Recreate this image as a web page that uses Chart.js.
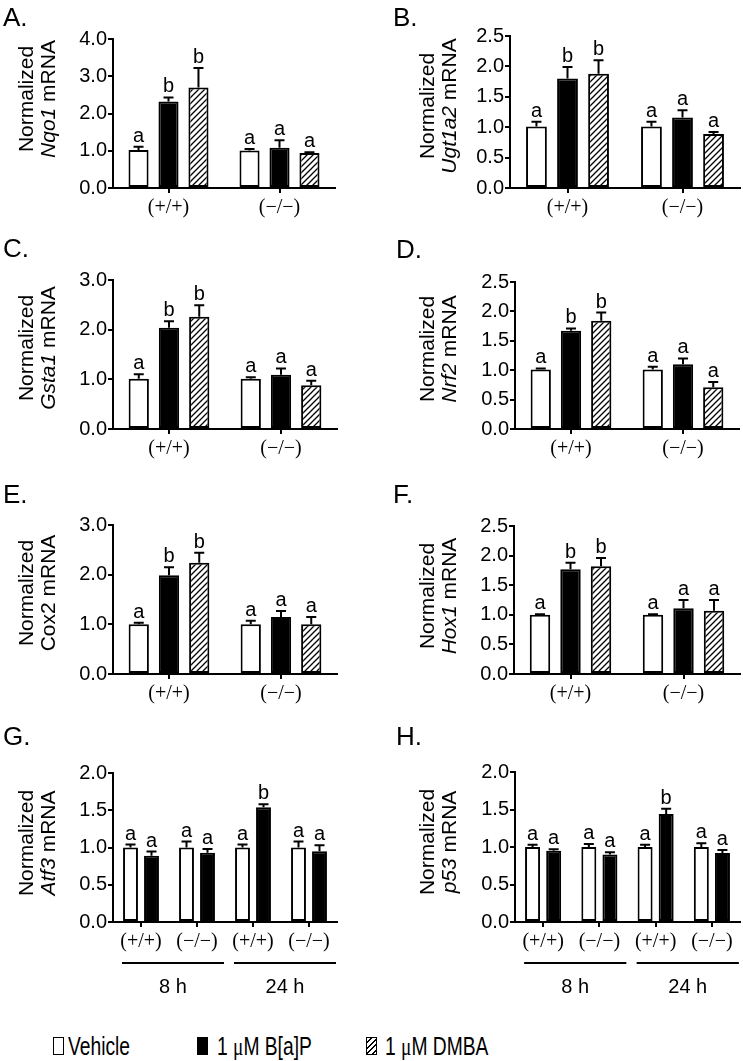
<!DOCTYPE html>
<html>
<head>
<meta charset="utf-8">
<script src="https://cdn.jsdelivr.net/npm/chart.js@4.4.1/dist/chart.umd.min.js"></script>
<style>
  html, body { margin: 0; padding: 0; background: #fff; }
  #fig { position: relative; width: 743px; height: 1061px; overflow: hidden; font-family: 'Liberation Sans', Arial, sans-serif; color: #000; }
  #fig canvas { position: absolute; }
  .tag { position: absolute; font-size: 26px; line-height: 26px; }
  .leg { position: absolute; top: 1034px; font-size: 25px; line-height: 25px; white-space: nowrap; transform: scaleX(0.77); transform-origin: 0 0; }
  .mu { font-family: 'Liberation Serif', serif; }
  .box { position: absolute; top: 1037px; width: 11px; height: 18px; box-sizing: border-box; border: 1.5px solid #000; }
</style>
</head>
<body>
<div id="fig">
  <canvas id="cA" width="372" height="250" style="left:0;top:0"></canvas>
  <canvas id="cB" width="371" height="250" style="left:372px;top:0"></canvas>
  <canvas id="cC" width="372" height="250" style="left:0;top:230px"></canvas>
  <canvas id="cD" width="371" height="250" style="left:372px;top:230px"></canvas>
  <canvas id="cE" width="372" height="250" style="left:0;top:460px"></canvas>
  <canvas id="cF" width="371" height="250" style="left:372px;top:460px"></canvas>
  <canvas id="cG" width="372" height="320" style="left:0;top:690px"></canvas>
  <canvas id="cH" width="371" height="320" style="left:372px;top:690px"></canvas>

  <div class="tag" style="left:3px;top:4px">A.</div>
  <div class="tag" style="left:393px;top:4px">B.</div>
  <div class="tag" style="left:3px;top:235px">C.</div>
  <div class="tag" style="left:396px;top:236px">D.</div>
  <div class="tag" style="left:3px;top:481px">E.</div>
  <div class="tag" style="left:393px;top:481px">F.</div>
  <div class="tag" style="left:3px;top:723px">G.</div>
  <div class="tag" style="left:396px;top:723px">H.</div>

  <div class="box" style="left:53px;background:#fff"></div>
  <div class="leg" style="left:68px">Vehicle</div>
  <div class="box" style="left:197px;background:#000"></div>
  <div class="leg" style="left:217px">1 <span class="mu">μ</span>M B[a]P</div>
  <div class="box" style="left:366px;background:repeating-linear-gradient(135deg,#fff 0 2.6px,#000 2.6px 3.9px)"></div>
  <div class="leg" style="left:385px">1 <span class="mu">μ</span>M DMBA</div>
</div>
<script>
// categorias do eixo x
const genotypes2 = ['(+/+)', '(−/−)'];
const genotypes4 = ['(+/+)', '(−/−)', '(+/+)', '(−/−)'];
const timeLabels = ['8 h', '24 h'];
const treatments = ['Vehicle', '1 μM B[a]P', '1 μM DMBA'];

// A. Nqo1  (linhas: vehicle, B[a]P, DMBA)
const nqo1Mean = [[1.02, 1.01], [2.32, 1.08], [2.70, 0.94]];
const nqo1Sem  = [[0.09, 0.04], [0.11, 0.20], [0.52, 0.02]];
const nqo1Sig  = [['a', 'a'], ['b', 'a'], ['b', 'a']];

// B. Ugt1a2
const ugtMean = [[1.01, 1.01], [1.80, 1.16], [1.88, 0.89]];
const ugtSem  = [[0.08, 0.08], [0.19, 0.12], [0.22, 0.03]];
const ugtSig  = [['a', 'a'], ['b', 'a'], ['b', 'a']];

// C. Gsta1
const gstaMean = [[1.01, 1.01], [2.04, 1.09], [2.26, 0.88]];
const gstaSem  = [[0.09, 0.03], [0.13, 0.13], [0.23, 0.09]];
const gstaSig  = [['a', 'a'], ['b', 'a'], ['b', 'a']];

// D. Nrf2
const nrf2Mean = [[1.01, 1.01], [1.67, 1.10], [1.84, 0.71]];
const nrf2Sem  = [[0.02, 0.05], [0.04, 0.10], [0.14, 0.09]];
const nrf2Sig  = [['a', 'a'], ['b', 'a'], ['b', 'a']];

// E. Cox2
const cox2Mean = [[1.00, 1.00], [1.99, 1.15], [2.24, 1.00]];
const cox2Sem  = [[0.03, 0.07], [0.16, 0.12], [0.20, 0.15]];
const cox2Sig  = [['a', 'a'], ['b', 'a'], ['b', 'a']];

// F. Hox1
const hox1Mean = [[1.00, 1.00], [1.77, 1.11], [1.82, 1.07]];
const hox1Sem  = [[0.01, 0.01], [0.11, 0.14], [0.14, 0.18]];
const hox1Sig  = [['a', 'a'], ['b', 'a'], ['b', 'a']];

// G. Atf3 (8 h e 24 h, só vehicle e B[a]P)
const atf3Mean = [[1.00, 1.00, 1.00, 1.00], [0.89, 0.93, 1.54, 0.95]];
const atf3Sem  = [[0.04, 0.08, 0.04, 0.08], [0.055, 0.05, 0.04, 0.08]];
const atf3Sig  = [['a', 'a', 'a', 'a'], ['a', 'a', 'b', 'a']];

// H. p53
const p53Mean = [[1.00, 1.00, 1.00, 1.00], [0.95, 0.90, 1.44, 0.92]];
const p53Sem  = [[0.03, 0.04, 0.03, 0.05], [0.02, 0.03, 0.07, 0.04]];
const p53Sig  = [['a', 'a', 'a', 'a'], ['a', 'a', 'b', 'a']];

const SANS = "'Liberation Sans', Arial, sans-serif";
const SERIF = "'Liberation Serif', 'Times New Roman', serif";

// padrão hachurado para DMBA
function makeHatch() {
  const c = document.createElement('canvas');
  c.width = 6; c.height = 6;
  const g = c.getContext('2d');
  g.fillStyle = '#fff';
  g.fillRect(0, 0, 6, 6);
  g.strokeStyle = '#000';
  g.lineWidth = 1.3;
  g.beginPath();
  g.moveTo(-1, 7); g.lineTo(7, -1);
  g.moveTo(-4, 4); g.lineTo(4, -4);
  g.moveTo(2, 10); g.lineTo(10, 2);
  g.stroke();
  return document.getElementById('cA').getContext('2d').createPattern(c, 'repeat');
}
const hatch = makeHatch();
const fills = ['#fff', '#000', hatch];

// área do gráfico em coordenadas do canvas (L, R, T, B); titleY = centro do título do eixo y
const panels = [
  { id: 'cA', gene: 'Nqo1', italic: true, labels: genotypes2, mean: nqo1Mean, sem: nqo1Sem, sig: nqo1Sig, yMax: 4, yStep: 1, area: [113, 335, 39, 188], titleX: [33, 55], titleY: 99 },
  { id: 'cB', gene: 'Ugt1a2', italic: true, labels: genotypes2, mean: ugtMean, sem: ugtSem, sig: ugtSig, yMax: 2.5, yStep: 0.5, area: [138, 368, 36, 188], titleX: [62, 84], titleY: 106 },
  { id: 'cC', gene: 'Gsta1', italic: true, labels: genotypes2, mean: gstaMean, sem: gstaSem, sig: gstaSig, yMax: 3, yStep: 1, area: [113, 337, 50, 199], titleX: [33, 55], titleY: 118 },
  { id: 'cD', gene: 'Nrf2', italic: true, labels: genotypes2, mean: nrf2Mean, sem: nrf2Sem, sig: nrf2Sig, yMax: 2.5, yStep: 0.5, area: [143, 367, 52, 199], titleX: [62, 84], titleY: 119 },
  { id: 'cE', gene: 'Cox2', italic: false, labels: genotypes2, mean: cox2Mean, sem: cox2Sem, sig: cox2Sig, yMax: 3, yStep: 1, area: [113, 337, 65, 214], titleX: [33, 55], titleY: 133 },
  { id: 'cF', gene: 'Hox1', italic: true, labels: genotypes2, mean: hox1Mean, sem: hox1Sem, sig: hox1Sig, yMax: 2.5, yStep: 0.5, area: [142, 368, 66, 214], titleX: [62, 84], titleY: 136 },
  { id: 'cG', gene: 'Atf3', italic: true, labels: genotypes4, mean: atf3Mean, sem: atf3Sem, sig: atf3Sig, yMax: 2, yStep: 0.5, area: [113, 337, 83, 232], titleX: [33, 55], titleY: 153, times: true },
  { id: 'cH', gene: 'p53', italic: true, labels: genotypes4, mean: p53Mean, sem: p53Sem, sig: p53Sig, yMax: 2, yStep: 0.5, area: [143, 368, 82, 232], titleX: [62, 84], titleY: 152, times: true }
];

// plugin: barras de erro, letras, título do eixo y e chaves de tempo
function makeExtras(p) {
  return {
    id: 'extras_' + p.id,
    afterDatasetsDraw(chart) {
      const ctx = chart.ctx;
      const ys = chart.scales.y;
      ctx.save();
      ctx.strokeStyle = '#000';
      ctx.fillStyle = '#000';
      ctx.lineWidth = 2;
      p.mean.forEach((serie, di) => {
        const meta = chart.getDatasetMeta(di);
        meta.data.forEach((bar, j) => {
          const top = ys.getPixelForValue(serie[j] + p.sem[di][j]);
          ctx.beginPath();
          ctx.moveTo(bar.x, bar.y);
          ctx.lineTo(bar.x, top);
          ctx.moveTo(bar.x - 5, top);
          ctx.lineTo(bar.x + 5, top);
          ctx.stroke();
          ctx.font = '20px ' + SANS;
          ctx.textAlign = 'center';
          ctx.textBaseline = 'alphabetic';
          ctx.fillText(p.sig[di][j], bar.x, top - 5);
        });
      });
      ctx.restore();
    },
    afterDraw(chart) {
      const ctx = chart.ctx;
      const a = p.area;
      const cy = p.titleY;
      ctx.save();
      ctx.fillStyle = '#000';
      // título do eixo y (duas linhas, gene em itálico)
      ctx.save();
      ctx.translate(p.titleX[0], cy);
      ctx.rotate(-Math.PI / 2);
      ctx.font = '21px ' + SANS;
      ctx.textAlign = 'center';
      ctx.textBaseline = 'alphabetic';
      ctx.fillText('Normalized', 0, 0);
      ctx.restore();

      ctx.save();
      ctx.translate(p.titleX[1], cy);
      ctx.rotate(-Math.PI / 2);
      const geneFont = (p.italic ? 'italic ' : '') + '21px ' + SANS;
      const restFont = '21px ' + SANS;
      ctx.font = geneFont;
      const w1 = ctx.measureText(p.gene).width;
      ctx.font = restFont;
      const w2 = ctx.measureText(' mRNA').width;
      let x0 = -(w1 + w2) / 2;
      ctx.textAlign = 'left';
      ctx.font = geneFont;
      ctx.fillText(p.gene, x0, 0);
      ctx.font = restFont;
      ctx.fillText(' mRNA', x0 + w1, 0);
      ctx.restore();

      // chaves 8 h / 24 h
      if (p.times) {
        const xs = chart.scales.x;
        ctx.strokeStyle = '#000';
        ctx.lineWidth = 2;
        ctx.font = '20px ' + SANS;
        ctx.textAlign = 'center';
        ctx.textBaseline = 'middle';
        timeLabels.forEach((t, k) => {
          const x1 = xs.getPixelForTick(2 * k) - 19;
          const x2 = xs.getPixelForTick(2 * k + 1) + 27;
          ctx.beginPath();
          ctx.moveTo(x1, a[3] + 41);
          ctx.lineTo(x2, a[3] + 41);
          ctx.stroke();
          ctx.fillText(t, (x1 + x2) / 2, a[3] + 65);
        });
      }
      ctx.restore();
    }
  };
}

panels.forEach(p => {
  const canvas = document.getElementById(p.id);
  const w = canvas.width, h = canvas.height;
  const a = p.area;
  const nBars = p.mean.length;
  const datasets = p.mean.map((serie, i) => ({
    label: treatments[i],
    data: serie,
    backgroundColor: fills[i],
    borderColor: '#000',
    borderWidth: 2,
    borderSkipped: false,
    categoryPercentage: nBars === 3 ? 0.81 : 0.75,
    barPercentage: nBars === 3 ? 0.67 : 0.71
  }));

  new Chart(canvas, {
    type: 'bar',
    data: { labels: p.labels, datasets },
    options: {
      responsive: false,
      animation: false,
      events: [],
      layout: { autoPadding: false, padding: { left: 0, top: a[2], right: w - a[1], bottom: 0 } },
      plugins: { legend: { display: false }, tooltip: { enabled: false } },
      scales: {
        x: {
          offset: true,
          grid: { offset: false, drawOnChartArea: false, drawTicks: true, tickLength: 5, color: '#000', lineWidth: 2 },
          border: { display: true, color: '#000', width: 2 },
          ticks: { font: { family: SERIF, size: 20 }, color: '#000', padding: 3, maxRotation: 0, autoSkip: false },
          afterFit: s => { s.height = h - a[3]; }
        },
        y: {
          min: 0,
          max: p.yMax,
          grid: { drawOnChartArea: false, drawTicks: true, tickLength: 5, color: '#000', lineWidth: 2 },
          border: { display: true, color: '#000', width: 2 },
          ticks: { stepSize: p.yStep, callback: v => v.toFixed(1), font: { family: SANS, size: 20 }, color: '#000', padding: 1 },
          afterFit: s => { s.width = a[0]; }
        }
      }
    },
    plugins: [makeExtras(p)]
  });
});
</script>
</body>
</html>
